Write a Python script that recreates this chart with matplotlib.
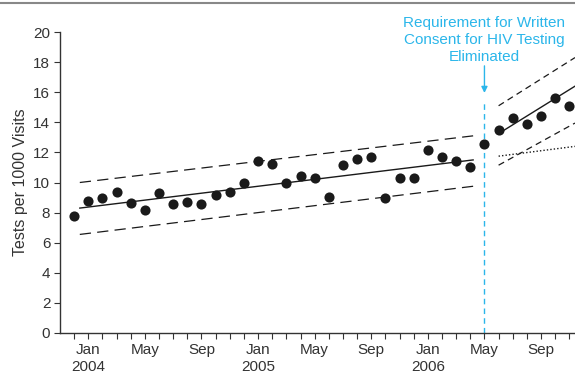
import matplotlib
matplotlib.use("Agg")
import matplotlib.pyplot as plt
from matplotlib.lines import Line2D
import numpy as np

# Months indexed from Dec 2003 = 0
months = list(range(36))
rates = [7.8, 8.75, 9.0, 9.35, 8.65, 8.15, 9.3, 8.6, 8.7, 8.6, 9.15, 9.35,
         9.95, 11.4, 11.2, 10.0, 10.4, 10.3, 9.05, 11.15, 11.55, 11.7, 9.0, 10.3,
         10.3, 12.15, 11.7, 11.4, 11.0, 12.55, 13.5, 14.3, 13.9, 14.4, 15.6, 15.1]

# Pre-period fitted trend and band (start, end)
pre_x = [0.4, 28.2]
pre_fit = [8.3, 11.5]
pre_upper = [10.0, 13.1]
pre_lower = [6.55, 9.75]

# Post-period fitted trend, band and counterfactual
post_x = [30.0, 35.4]
post_fit = [13.25, 16.4]
post_upper = [15.1, 18.3]
post_lower = [11.15, 13.95]
counterfactual = [11.75, 12.4]

tick_labels = {1: "Jan\n2004", 5: "May", 9: "Sep", 13: "Jan\n2005", 17: "May",
               21: "Sep", 25: "Jan\n2006", 29: "May", 33: "Sep"}
event_month = 29

plt.rcParams['font.family'] = ['Liberation Sans', 'DejaVu Sans']
text_col = '#333333'
cyan = '#2bb6ea'

fig = plt.figure(figsize=(5.75, 3.74), dpi=100)
ax = fig.add_axes([60/575, 1 - 333/374, (575 - 60)/575, (333 - 32)/374])

ax.plot(months, rates, 'o', color='#1a1a1a', markersize=7.3, zorder=5, markeredgewidth=0)

ax.plot(pre_x, pre_fit, '-', color='#1a1a1a', lw=1.0)
ax.plot(pre_x, pre_upper, color='#1a1a1a', lw=0.9, dashes=(9, 5))
ax.plot(pre_x, pre_lower, color='#1a1a1a', lw=0.9, dashes=(9, 5))

ax.plot(post_x, post_fit, '-', color='#1a1a1a', lw=1.0)
ax.plot(post_x, post_upper, color='#1a1a1a', lw=0.9, dashes=(5, 3.5))
ax.plot(post_x, post_lower, color='#1a1a1a', lw=0.9, dashes=(5, 3.5))
ax.plot(post_x, counterfactual, color='#1a1a1a', lw=1.0, dashes=(1, 1.5))

ax.plot([event_month, event_month], [0, 15.5], color=cyan, lw=1.0, dashes=(4, 3), zorder=1)
ax.annotate("", xy=(event_month, 15.95), xytext=(event_month, 17.75),
            arrowprops=dict(arrowstyle='-|>', color=cyan, lw=1.0,
                            mutation_scale=9, shrinkA=0, shrinkB=0))
ax.text(event_month, 17.85, "Requirement for Written\nConsent for HIV Testing\nEliminated",
        ha='center', va='bottom', color=cyan, fontsize=11, linespacing=1.3)

ax.set_xlim(-1, 35.4)
ax.set_ylim(0, 20)
ax.set_yticks(range(0, 21, 2))
ax.set_xticks(months)
ax.set_xticklabels([tick_labels.get(m, "") for m in months], linespacing=1.3)

for s in ['top', 'right']:
    ax.spines[s].set_visible(False)
for s in ['left', 'bottom']:
    ax.spines[s].set_color('#333333')
    ax.spines[s].set_linewidth(1.0)
ax.tick_params(axis='both', direction='out', length=4, width=0.8, color='#333333',
               labelcolor=text_col, labelsize=11)
ax.tick_params(axis='x', pad=3)
ax.tick_params(axis='y', pad=3)
ax.set_ylabel("Tests per 1000 Visits", color=text_col, fontsize=11.5, labelpad=4)

fig.add_artist(Line2D([0, 1], [1 - 3/374, 1 - 3/374], color='#888888', lw=1.5,
                      transform=fig.transFigure))

fig.savefig("out.png", dpi=100)
